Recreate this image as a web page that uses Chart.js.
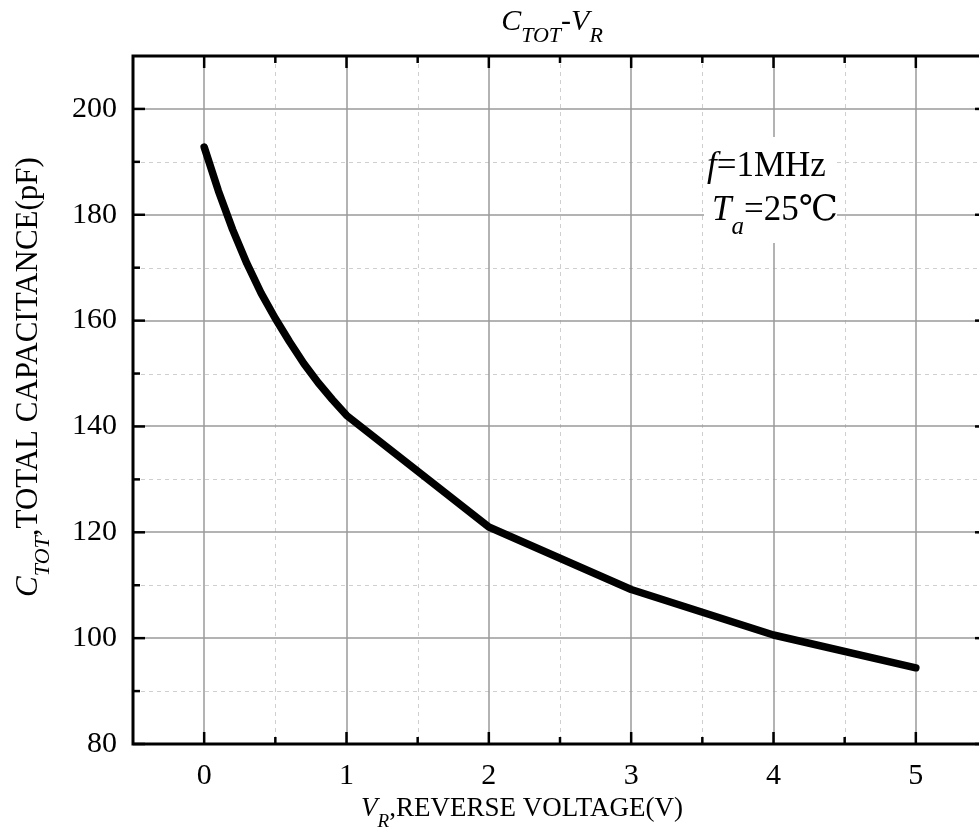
<!DOCTYPE html>
<html>
<head>
<meta charset="utf-8">
<script src="https://cdn.jsdelivr.net/npm/chart.js@4.4.1/dist/chart.umd.min.js"></script>
<style>
  html, body { margin: 0; padding: 0; background: #fff; overflow: hidden; }
  #wrap { width: 1000px; height: 836px; }
</style>
</head>
<body>
<div id="wrap"><canvas id="chart" width="1000" height="836"></canvas></div>
<script>
const SERIF = "'Liberation Serif', 'Times New Roman', 'DejaVu Serif', serif";

// reverse voltage (V) and total capacitance (pF)
const voltage = [0, 0.1, 0.2, 0.3, 0.4, 0.5, 0.6, 0.7, 0.8, 0.9, 1, 2, 3, 4, 5];
const capacitance = [192.8, 184.5, 177.2, 170.8, 165.2, 160.4, 156.0, 151.9, 148.3, 145.1, 142.1, 121.0, 109.2, 100.6, 94.4];

const xMajor = [0, 1, 2, 3, 4, 5];
const xMinor = [0.5, 1.5, 2.5, 3.5, 4.5];
const yMajor = [80, 100, 120, 140, 160, 180, 200];
const yMinor = [90, 110, 130, 150, 170, 190];

// draws runs of [text, italic, sub] pieces starting at x on baseline y
function drawRich(ctx, parts, x, y, size, align) {
  const fontOf = (p) => `${p[1] ? "italic " : ""}${p[2] ? Math.round(size * 0.72) : size}px ${SERIF}`;
  let total = 0;
  parts.forEach((p) => { ctx.font = fontOf(p); total += ctx.measureText(p[0]).width; });
  let cx = align === "center" ? x - total / 2 : x;
  ctx.textAlign = "left";
  ctx.textBaseline = "alphabetic";
  parts.forEach((p) => {
    ctx.font = fontOf(p);
    ctx.fillText(p[0], cx, p[2] ? y + size * 0.4 : y);
    cx += ctx.measureText(p[0]).width;
  });
}

const frame = {
  id: "frame",
  beforeDatasetsDraw(chart) {
    const { ctx, chartArea: a, scales: { x, y } } = chart;
    ctx.save();
    ctx.lineWidth = 1;
    ctx.strokeStyle = "#cfcfcf";
    ctx.setLineDash([4, 4]);
    xMinor.forEach((v) => {
      const px = Math.round(x.getPixelForValue(v)) + 0.5;
      ctx.beginPath(); ctx.moveTo(px, a.top); ctx.lineTo(px, a.bottom); ctx.stroke();
    });
    yMinor.forEach((v) => {
      const py = Math.round(y.getPixelForValue(v)) + 0.5;
      ctx.beginPath(); ctx.moveTo(a.left, py); ctx.lineTo(a.right, py); ctx.stroke();
    });
    ctx.setLineDash([]);
    ctx.strokeStyle = "#9a9a9a";
    ctx.lineWidth = 1.5;
    xMajor.forEach((v) => {
      const px = Math.round(x.getPixelForValue(v));
      ctx.beginPath(); ctx.moveTo(px, a.top); ctx.lineTo(px, a.bottom); ctx.stroke();
    });
    yMajor.forEach((v) => {
      const py = Math.round(y.getPixelForValue(v));
      ctx.beginPath(); ctx.moveTo(a.left, py); ctx.lineTo(a.right, py); ctx.stroke();
    });
    // white box behind the test conditions
    ctx.fillStyle = "#fff";
    ctx.fillRect(704, 137, 133, 106);
    ctx.restore();
  },
  afterDraw(chart) {
    const { ctx, chartArea: a, scales: { x, y } } = chart;
    ctx.save();
    ctx.strokeStyle = "#000";
    ctx.lineWidth = 2.5;
    const tick = (vals, len) => {
      vals.forEach((v) => {
        const px = x.getPixelForValue(v);
        ctx.beginPath(); ctx.moveTo(px, a.bottom); ctx.lineTo(px, a.bottom - len); ctx.stroke();
        ctx.beginPath(); ctx.moveTo(px, a.top); ctx.lineTo(px, a.top + len); ctx.stroke();
      });
    };
    const tickY = (vals, len) => {
      vals.forEach((v) => {
        const py = y.getPixelForValue(v);
        ctx.beginPath(); ctx.moveTo(a.left, py); ctx.lineTo(a.left + len, py); ctx.stroke();
        ctx.beginPath(); ctx.moveTo(a.right, py); ctx.lineTo(a.right - len, py); ctx.stroke();
      });
    };
    tick(xMajor, 12); tick(xMinor, 7);
    tickY(yMajor, 12); tickY(yMinor, 7);
    ctx.lineWidth = 3;
    ctx.strokeRect(a.left, a.top, a.right - a.left, a.bottom - a.top);

    ctx.fillStyle = "#000";
    // chart title
    drawRich(ctx, [["C", true, false], ["TOT", true, true], ["-V", true, false], ["R", true, true]], 552, 30, 30, "center");
    // test conditions
    drawRich(ctx, [["f", true, false], ["=1MHz", false, false]], 707, 176, 35, "left");
    drawRich(ctx, [["T", true, false], ["a", true, true], ["=25℃", false, false]], 712, 220, 35, "left");
    // x axis title
    drawRich(ctx, [["V", true, false], ["R", true, true], [",REVERSE VOLTAGE(V)", false, false]], 522, 816, 27, "center");
    // y axis title, rotated
    ctx.translate(37, 377);
    ctx.rotate(-Math.PI / 2);
    drawRich(ctx, [["C", true, false], ["TOT", true, true], [",TOTAL CAPACITANCE(pF)", false, false]], 0, 0, 31, "center");
    ctx.restore();
  },
};

new Chart(document.getElementById("chart"), {
  type: "scatter",
  data: {
    datasets: [{
      data: voltage.map((v, i) => ({ x: v, y: capacitance[i] })),
      showLine: true,
      borderColor: "#000",
      borderWidth: 7.5,
      borderCapStyle: "round",
      borderJoinStyle: "round",
      pointRadius: 0,
      tension: 0,
    }],
  },
  options: {
    responsive: false,
    animation: false,
    events: [],
    layout: { padding: { top: 56, right: 13, left: 0, bottom: 0 } },
    plugins: { legend: { display: false }, tooltip: { enabled: false } },
    scales: {
      x: {
        type: "linear",
        min: -0.5,
        max: 5.5,
        afterBuildTicks: (s) => { s.ticks = xMajor.map((v) => ({ value: v })); },
        afterFit: (s) => { s.height = 92; },
        grid: { display: false, drawTicks: false },
        border: { display: false },
        ticks: { color: "#000", padding: 14, font: { family: SERIF, size: 30 }, autoSkip: false, maxRotation: 0 },
      },
      y: {
        type: "linear",
        min: 80,
        max: 210,
        afterBuildTicks: (s) => { s.ticks = yMajor.map((v) => ({ value: v })); },
        afterFit: (s) => { s.width = 133; },
        grid: { display: false, drawTicks: false },
        border: { display: false },
        ticks: { color: "#000", padding: 16, font: { family: SERIF, size: 30 }, autoSkip: false },
      },
    },
  },
  plugins: [frame],
});
</script>
</body>
</html>
